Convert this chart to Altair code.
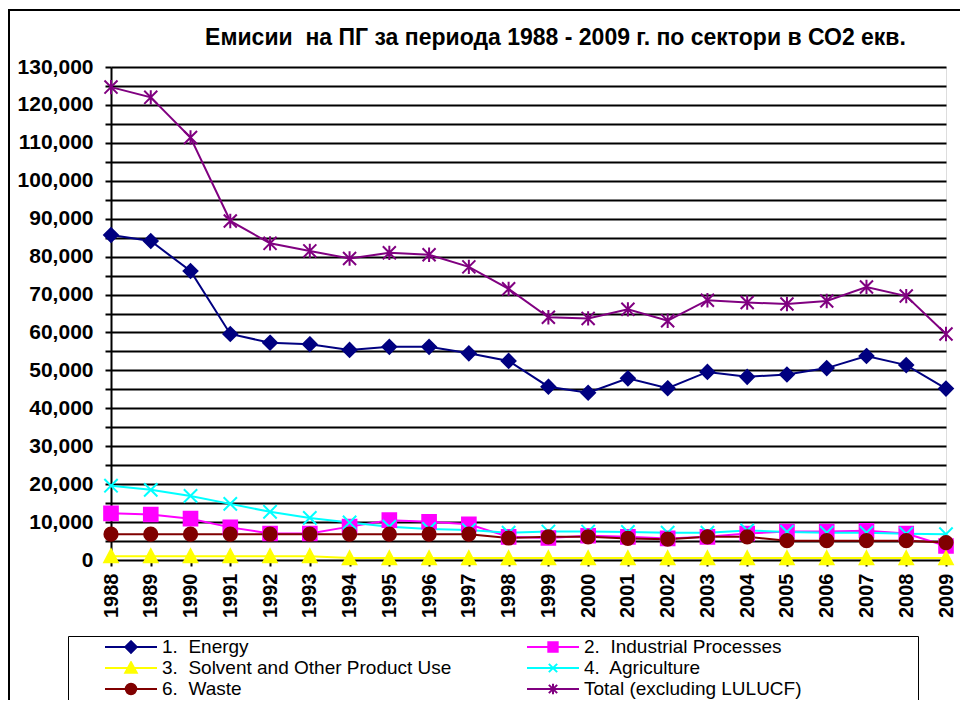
import altair as alt
import pandas as pd

years = list(range(1988, 2010))
series_names = [
    "1.  Energy",
    "2.  Industrial Processes",
    "3.  Solvent and Other Product Use",
    "4.  Agriculture",
    "6.  Waste",
    "Total (excluding LULUCF)",
]
energy = [85700, 84100, 76200, 59600, 57300, 56900, 55400, 56200, 56200, 54500, 52500,
          45700, 44100, 47900, 45300, 49600, 48300, 48900, 50600, 53800, 51400, 45200]
industrial = [12300, 12000, 10900, 8600, 7000, 7000, 8800, 10500, 10100, 9400, 6100,
              5800, 6400, 6100, 5700, 6100, 7000, 7500, 7500, 7700, 7000, 3700]
solvent = [1000, 1000, 1000, 1000, 1000, 1000, 500, 500, 500, 500, 500,
           500, 500, 500, 500, 500, 500, 500, 500, 500, 500, 500]
agriculture = [19600, 18500, 16900, 14800, 12700, 11100, 9900, 8800, 8200, 7900, 7200,
               7500, 7500, 7400, 7200, 7200, 7800, 7400, 7200, 7200, 6900, 6800]
waste = [6800, 6800, 6800, 6800, 6800, 6800, 6800, 6800, 6800, 6800, 5800,
         6100, 6100, 5700, 5500, 6100, 6100, 5100, 5100, 5100, 5100, 4600]
total = [124700, 122000, 111400, 89400, 83500, 81500, 79500, 81000, 80500, 77300, 71500,
         64000, 63700, 66100, 63100, 68500, 67900, 67500, 68300, 72000, 69600, 59600]
colors = ["#000080", "#FF00FF", "#FFFF00", "#00FFFF", "#800000", "#800080"]
y_ticks = list(range(0, 130001, 5000))

values = [energy, industrial, solvent, agriculture, waste, total]
rows = []
for name, vals in zip(series_names, values):
    for yr, v in zip(years, vals):
        rows.append({"year": yr, "value": v, "series": name})
df = pd.DataFrame(rows)

# marker shapes on the plot
marker_shapes = [
    "M0,-1L1,0L0,1L-1,0Z",
    "M-1,-1H1V1H-1Z",
    "M0,-1L1,0.9H-1Z",
    "M-1,-1L1,1M-1,1L1,-1",
    "circle",
    "M-1,-1L1,1M-1,1L1,-1M0,-1.1V1.1",
]
marker_sizes = [190, 170, 210, 240, 190, 240]
# legend symbols: line segment plus marker
legend_shapes = [
    "M-1,0H1M0,-0.22L0.22,0L0,0.22L-0.22,0Z",
    "M-1,0H1M-0.18,-0.18H0.18V0.18H-0.18Z",
    "M-1,0H1M0,-0.22L0.22,0.18H-0.22Z",
    "M-1,0H1M-0.16,-0.16L0.16,0.16M-0.16,0.16L0.16,-0.16",
    "M-1,0H1M-0.2,0A0.2,0.2,0,1,0,0.2,0A0.2,0.2,0,1,0,-0.2,0Z",
    "M-1,0H1M-0.16,-0.16L0.16,0.16M-0.16,0.16L0.16,-0.16M0,-0.2V0.2",
]

FONT = "Liberation Sans, Arial, sans-serif"
W, H = 835, 493

x_enc = alt.X("year:Q", scale=alt.Scale(domain=[1988, 2009], nice=False, zero=False),
              axis=alt.Axis(values=years, format="d", labelAngle=270, labelAlign="right",
                            labelBaseline="middle", labelFont=FONT, labelFontSize=20,
                            labelFontWeight="bold", labelColor="black", labelPadding=7,
                            tickColor="black", tickWidth=2, tickSize=6, domain=False,
                            grid=False, title=None))
y_enc = alt.Y("value:Q", scale=alt.Scale(domain=[0, 130000], nice=False),
              axis=alt.Axis(values=y_ticks, format=",d", labelFont=FONT, labelFontSize=21,
                            labelFontWeight="bold", labelColor="black", labelPadding=12,
                            tickColor="black", tickWidth=2, tickSize=6,
                            domainColor="black", domainWidth=2,
                            gridColor="black", gridWidth=2, gridOpacity=1,
                            title=None))

col_scale = alt.Scale(domain=series_names, range=colors)

lines = alt.Chart(df).mark_line(strokeWidth=2).encode(
    x=x_enc, y=y_enc,
    color=alt.Color("series:N", scale=col_scale, legend=None),
)

points = alt.Chart(df).mark_point(filled=True, opacity=1, strokeWidth=2).encode(
    x=x_enc, y=y_enc,
    fill=alt.Fill("series:N", scale=col_scale, legend=None),
    stroke=alt.Stroke("series:N", scale=col_scale, legend=None),
    shape=alt.Shape("series:N", scale=alt.Scale(domain=series_names, range=marker_shapes), legend=None),
    size=alt.Size("series:N", scale=alt.Scale(domain=series_names, range=marker_sizes), legend=None),
)

blank = "\u2800"
pad1 = blank * 3
pad2 = blank * 8
leg = alt.Legend(
    title=None, orient="none", legendX=-43, legendY=569, columns=2, direction="horizontal",
    columnPadding=0, rowPadding=2, padding=4, clipHeight=14,
    strokeColor="black", fillColor="white",
    symbolSize=2704, symbolStrokeWidth=2, symbolOffset=32, labelOffset=4,
    labelFont=FONT, labelFontSize=19, labelColor="black", labelLimit=700,
    labelExpr="replace(datum.label, '  ', '\u00a0 ') + (datum.index % 2 ? '" + pad2 + "' : '" + pad1 + "')",
)
legend_layer = alt.Chart(df).transform_filter("false").mark_point(filled=True, opacity=1).encode(
    x=x_enc, y=y_enc,
    fill=alt.Fill("series:N", scale=col_scale, legend=leg),
    stroke=alt.Stroke("series:N", scale=col_scale, legend=leg),
    shape=alt.Shape("series:N", scale=alt.Scale(domain=series_names, range=legend_shapes), legend=leg),
)

frame = alt.Chart(alt.Data(values=[{"k": 1}])).mark_rect(
    fill="transparent", stroke="black", strokeWidth=2
).encode(
    x=alt.value(-102), x2=alt.value(W + 60), y=alt.value(-57), y2=alt.value(H + 200)
)

chart = alt.layer(lines, points, legend_layer, frame).resolve_scale(
    color="independent", fill="independent", stroke="independent",
    shape="independent", size="independent"
).properties(
    width=W, height=H,
    title=alt.TitleParams(
        "Емисии\u00a0 на ПГ за периода 1988 - 2009 г. по сектори в СО2 екв.",
        font=FONT, fontSize=23, fontWeight="bold", color="black",
        anchor="middle", frame="group", baseline="alphabetic", offset=-59, dx=27,
    ),
    autosize=alt.AutoSizeParams(type="none"),
    padding={"left": 103, "top": 59, "right": 14, "bottom": 140},
).configure_view(stroke="transparent").configure(background="white")

chart.save("out.html", embed_options={"renderer": "svg", "actions": False})
